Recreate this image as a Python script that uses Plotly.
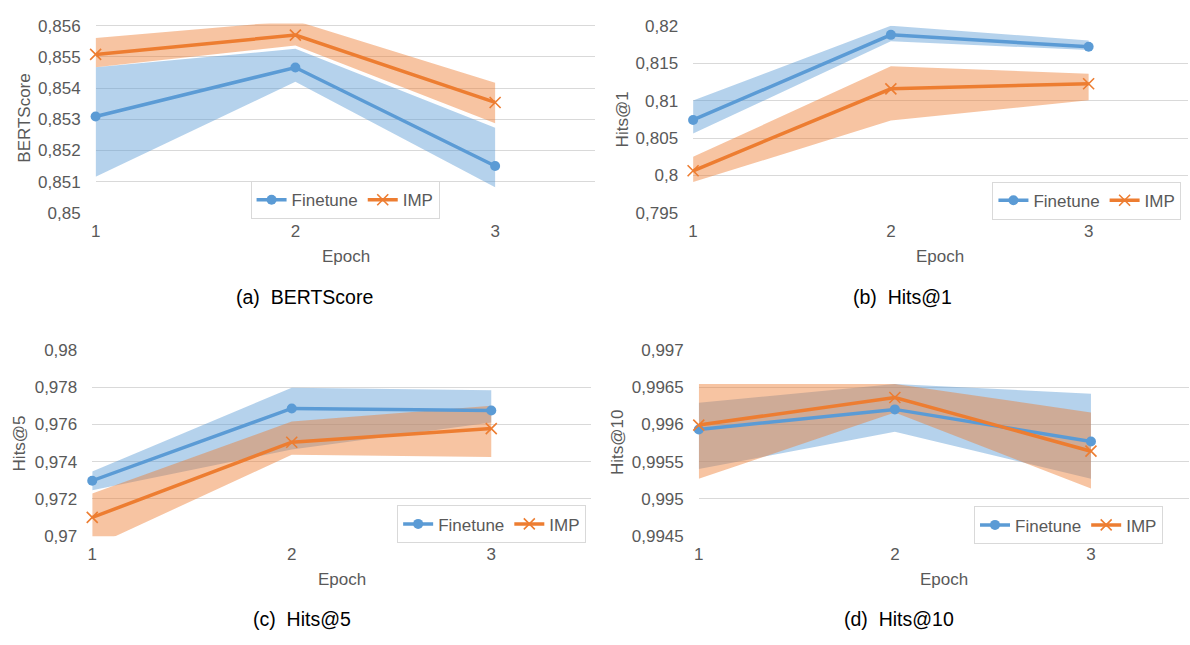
import plotly.graph_objects as go

# ---------------- data ----------------
epochs = [1, 2, 3]
x_ticks = [1, 2, 3]
x_tick_labels = ["1", "2", "3"]

series_names = ["Finetune", "IMP"]

# (a) BERTScore
bert_ft = [0.85309, 0.85466, 0.85150]
bert_ft_hi = [0.85467, 0.85526, 0.85273]
bert_ft_lo = [0.85116, 0.85420, 0.85082]
bert_imp = [0.85508, 0.85570, 0.85354]
bert_imp_hi = [0.85561, 0.85616, 0.85417]
bert_imp_lo = [0.85467, 0.85537, 0.85287]
bert_ticks = [0.850, 0.851, 0.852, 0.853, 0.854, 0.855, 0.856]
bert_tick_labels = ["0,85", "0,851", "0,852", "0,853", "0,854", "0,855", "0,856"]

# (b) Hits@1
h1_ft = [0.80741, 0.81879, 0.81719]
h1_ft_hi = [0.81001, 0.82000, 0.81805]
h1_ft_lo = [0.80560, 0.81792, 0.81676]
h1_imp = [0.80062, 0.81157, 0.81226]
h1_imp_hi = [0.80248, 0.81459, 0.81360]
h1_imp_lo = [0.79911, 0.80733, 0.81005]
h1_ticks = [0.795, 0.800, 0.805, 0.810, 0.815, 0.820]
h1_tick_labels = ["0,795", "0,8", "0,805", "0,81", "0,815", "0,82"]

# (c) Hits@5
h5_ft = [0.97298, 0.97685, 0.97674]
h5_ft_hi = [0.97347, 0.97796, 0.97783]
h5_ft_lo = [0.97246, 0.97465, 0.97610]
h5_imp = [0.97101, 0.97504, 0.97577]
h5_imp_hi = [0.97229, 0.97615, 0.97700]
h5_imp_lo = [0.96943, 0.97437, 0.97425]
h5_ticks = [0.970, 0.972, 0.974, 0.976, 0.978, 0.980]
h5_tick_labels = ["0,97", "0,972", "0,974", "0,976", "0,978", "0,98"]

# (d) Hits@10
h10_ft = [0.99593, 0.99620, 0.99577]
h10_ft_hi = [0.99629, 0.99654, 0.99641]
h10_ft_lo = [0.99540, 0.99590, 0.99527]
h10_imp = [0.99599, 0.99636, 0.99564]
h10_imp_hi = [0.99654, 0.99654, 0.99616]
h10_imp_lo = [0.99527, 0.99616, 0.99514]
h10_ticks = [0.9945, 0.9950, 0.9955, 0.9960, 0.9965, 0.9970]
h10_tick_labels = ["0,9945", "0,995", "0,9955", "0,996", "0,9965", "0,997"]

y_titles = ["BERTScore", "Hits@1", "Hits@5", "Hits@10"]
captions = ["(a)  BERTScore", "(b)  Hits@1", "(c)  Hits@5", "(d)  Hits@10"]
x_title = "Epoch"

# ---------------- styling ----------------
FONT = "Liberation Sans, Arial, Helvetica, sans-serif"
TXT = "#595959"
GRID = "#D9D9D9"
BLUE = "#5B9BD5"
ORANGE = "#ED7D31"
BLUE_BAND = "rgba(91,155,213,0.45)"
ORANGE_BAND = "rgba(237,125,49,0.45)"

W, H = 1190, 645

panels = [
    dict(ft=bert_ft, ft_hi=bert_ft_hi, ft_lo=bert_ft_lo,
         imp=bert_imp, imp_hi=bert_imp_hi, imp_lo=bert_imp_lo,
         ticks=bert_ticks, labels=bert_tick_labels, yr=[0.85, 0.85607],
         px=(91, 592.5), py=(15.0, 210.0), ytx=19.6,
         leg=(341.5, 197), cap=(301, 297), ep=(342, 255)),
    dict(ft=h1_ft, ft_hi=h1_ft_hi, ft_lo=h1_ft_lo,
         imp=h1_imp, imp_hi=h1_imp_hi, imp_lo=h1_imp_lo,
         ticks=h1_ticks, labels=h1_tick_labels, yr=[0.795, 0.82],
         px=(691, 1187.5), py=(17.3, 210.0), ytx=619.7,
         leg=(1086.5, 197.5), cap=(901, 297), ep=(939, 255)),
    dict(ft=h5_ft, ft_hi=h5_ft_hi, ft_lo=h5_ft_lo,
         imp=h5_imp, imp_hi=h5_imp_hi, imp_lo=h5_imp_lo,
         ticks=h5_ticks, labels=h5_tick_labels, yr=[0.97, 0.98],
         px=(87.6, 588.5), py=(351.0, 543.3), ytx=15.5,
         leg=(488.7, 531), cap=(298, 629), ep=(338, 588)),
    dict(ft=h10_ft, ft_hi=h10_ft_hi, ft_lo=h10_ft_lo,
         imp=h10_imp, imp_hi=h10_imp_hi, imp_lo=h10_imp_lo,
         ticks=h10_ticks, labels=h10_tick_labels, yr=[0.9945, 0.997],
         px=(696.7, 1189), py=(351.0, 543.3), ytx=615.7,
         leg=(1068, 532), cap=(898, 629), ep=(943, 588)),
]

fig = go.Figure()
layout = dict(
    width=W, height=H, autosize=False,
    margin=dict(l=0, r=0, t=0, b=0),
    paper_bgcolor="white", plot_bgcolor="white",
    font=dict(family=FONT, size=17, color=TXT),
    separators=", ",
    annotations=[],
    hovermode=False,
)

for i, p in enumerate(panels):
    n = "" if i == 0 else str(i + 1)
    xa, ya = "x" + n, "y" + n
    leg = "legend" + n
    span = p["yr"][1] - p["yr"][0]
    eps = span * 1e-4

    # bands (closed polygons)
    fig.add_trace(go.Scatter(
        x=epochs + epochs[::-1], y=p["ft_hi"] + p["ft_lo"][::-1],
        fill="toself", fillcolor=BLUE_BAND, line=dict(width=0),
        mode="lines", showlegend=False, xaxis=xa, yaxis=ya, hoverinfo="skip"))
    fig.add_trace(go.Scatter(
        x=epochs + epochs[::-1], y=p["imp_hi"] + p["imp_lo"][::-1],
        fill="toself", fillcolor=ORANGE_BAND, line=dict(width=0),
        mode="lines", showlegend=False, xaxis=xa, yaxis=ya, hoverinfo="skip"))
    # lines
    fig.add_trace(go.Scatter(
        x=epochs, y=p["ft"], name=series_names[0], mode="lines+markers",
        line=dict(color=BLUE, width=3.5),
        marker=dict(symbol="circle", size=10, color=BLUE),
        cliponaxis=False, legend=leg, xaxis=xa, yaxis=ya))
    fig.add_trace(go.Scatter(
        x=epochs, y=p["imp"], name=series_names[1], mode="lines+markers",
        line=dict(color=ORANGE, width=3.5),
        marker=dict(symbol="x-thin", size=11, color=ORANGE,
                    line=dict(width=1.6, color=ORANGE)),
        cliponaxis=False, legend=leg, xaxis=xa, yaxis=ya))

    x0, x1 = p["px"]
    y0, y1 = p["py"]
    layout["xaxis" + n] = dict(
        domain=[x0 / W, min(x1 / W, 1.0)], anchor=ya, range=[1, 3.5],
        tickvals=x_ticks, ticktext=x_tick_labels, showgrid=False,
        zeroline=False, showline=False, ticks="", ticklabelstandoff=6,
        tickfont=dict(size=17, color=TXT, family=FONT), fixedrange=True)
    layout["yaxis" + n] = dict(
        domain=[1 - y1 / H, 1 - y0 / H], anchor=xa,
        range=[p["yr"][0] - eps, p["yr"][1] + eps],
        tickvals=p["ticks"], ticktext=p["labels"], showgrid=True,
        gridcolor=GRID, gridwidth=1, zeroline=False, showline=False,
        ticks="", ticklabelstandoff=14,
        tickfont=dict(size=17, color=TXT, family=FONT), fixedrange=True)
    layout[leg] = dict(
        orientation="h", x=p["leg"][0] / W, y=1 - p["leg"][1] / H,
        xanchor="center", yanchor="middle", xref="paper", yref="paper",
        bgcolor="white", bordercolor=GRID, borderwidth=1,
        font=dict(size=17, color=TXT, family=FONT),
        itemwidth=30, tracegroupgap=0)

    # axis titles & captions
    layout["annotations"].append(dict(
        text=y_titles[i], x=p["ytx"] / W, y=1 - ((y0 + y1) / 2) / H,
        xref="paper", yref="paper", showarrow=False, textangle=-90,
        xanchor="center", yanchor="middle",
        font=dict(size=17, color=TXT, family=FONT)))
    layout["annotations"].append(dict(
        text=x_title, x=p["ep"][0] / W, y=1 - p["ep"][1] / H,
        xref="paper", yref="paper", showarrow=False,
        xanchor="center", yanchor="middle",
        font=dict(size=17, color=TXT, family=FONT)))
    layout["annotations"].append(dict(
        text=captions[i], x=p["cap"][0] / W, y=1 - p["cap"][1] / H,
        xref="paper", yref="paper", showarrow=False,
        xanchor="center", yanchor="middle",
        font=dict(size=19.5, color="black", family=FONT)))

fig.update_layout(**layout)
fig.write_html(
    "out.html",
    config={"displayModeBar": False},
    post_script="document.body.style.margin='0';document.body.style.overflow='hidden';",
)
